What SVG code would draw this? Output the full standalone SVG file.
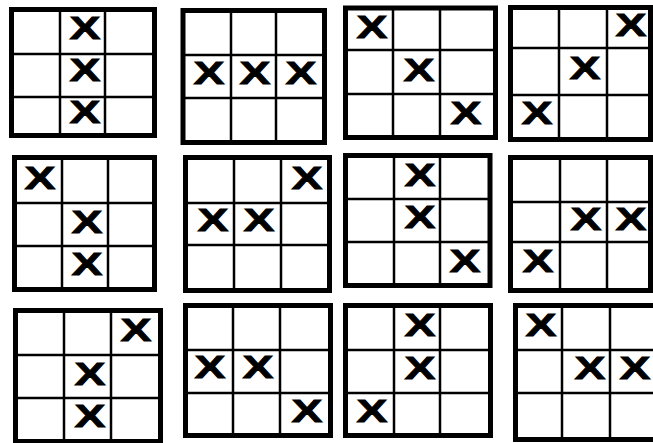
<svg xmlns="http://www.w3.org/2000/svg" width="653" height="443" viewBox="0 0 653 443">
<style>
.frame{fill:#fff;stroke:#000;stroke-width:5}
.grid{stroke:#000;stroke-width:2.5}
.x{font-family:"Liberation Sans",Arial,sans-serif;font-weight:bold;font-size:31px;text-anchor:middle;fill:#000;stroke:#000;stroke-width:0.8}
</style>
<rect width="653" height="443" fill="#fff"/>
<g id="board1">
<rect class="frame" x="11.5" y="9.5" width="143" height="126"/>
<line class="grid" x1="60" y1="9.5" x2="60" y2="135.5"/><line class="grid" x1="105" y1="9.5" x2="105" y2="135.5"/>
<line class="grid" x1="11.5" y1="54" x2="154.5" y2="54"/><line class="grid" x1="11.5" y1="97" x2="154.5" y2="97"/>
<text class="x" transform="translate(85,28) scale(1.5,1)" y="11">X</text>
<text class="x" transform="translate(85,70) scale(1.5,1)" y="11">X</text>
<text class="x" transform="translate(85,112) scale(1.5,1)" y="11">X</text>
</g>
<g id="board2">
<rect class="frame" x="183" y="10.5" width="141.5" height="132"/>
<line class="grid" x1="231" y1="10.5" x2="231" y2="142.5"/><line class="grid" x1="276" y1="10.5" x2="276" y2="142.5"/>
<line class="grid" x1="183" y1="55" x2="324.5" y2="55"/><line class="grid" x1="183" y1="98" x2="324.5" y2="98"/>
<text class="x" transform="translate(209,73) scale(1.5,1)" y="11">X</text>
<text class="x" transform="translate(255,73) scale(1.5,1)" y="11">X</text>
<text class="x" transform="translate(301,73) scale(1.5,1)" y="11">X</text>
</g>
<g id="board3">
<rect class="frame" x="345.5" y="8" width="150" height="129.5"/>
<line class="grid" x1="393" y1="8" x2="393" y2="137.5"/><line class="grid" x1="440" y1="8" x2="440" y2="137.5"/>
<line class="grid" x1="345.5" y1="50" x2="495.5" y2="50"/><line class="grid" x1="345.5" y1="94" x2="495.5" y2="94"/>
<text class="x" transform="translate(372,27) scale(1.5,1)" y="11">X</text>
<text class="x" transform="translate(419,70) scale(1.5,1)" y="11">X</text>
<text class="x" transform="translate(466,113) scale(1.5,1)" y="11">X</text>
</g>
<g id="board4">
<rect class="frame" x="510.5" y="7.5" width="140" height="132"/>
<line class="grid" x1="559" y1="7.5" x2="559" y2="139.5"/><line class="grid" x1="607" y1="7.5" x2="607" y2="139.5"/>
<line class="grid" x1="510.5" y1="48" x2="650.5" y2="48"/><line class="grid" x1="510.5" y1="95" x2="650.5" y2="95"/>
<text class="x" transform="translate(631,25) scale(1.5,1)" y="11">X</text>
<text class="x" transform="translate(585,68) scale(1.5,1)" y="11">X</text>
<text class="x" transform="translate(537,113) scale(1.5,1)" y="11">X</text>
</g>
<g id="board5">
<rect class="frame" x="14.5" y="157.5" width="140" height="132"/>
<line class="grid" x1="62" y1="157.5" x2="62" y2="289.5"/><line class="grid" x1="108" y1="157.5" x2="108" y2="289.5"/>
<line class="grid" x1="14.5" y1="203" x2="154.5" y2="203"/><line class="grid" x1="14.5" y1="246" x2="154.5" y2="246"/>
<text class="x" transform="translate(40,178) scale(1.5,1)" y="11">X</text>
<text class="x" transform="translate(87,222) scale(1.5,1)" y="11">X</text>
<text class="x" transform="translate(87,264) scale(1.5,1)" y="11">X</text>
</g>
<g id="board6">
<rect class="frame" x="185.5" y="157.5" width="144" height="133"/>
<line class="grid" x1="234" y1="157.5" x2="234" y2="290.5"/><line class="grid" x1="281" y1="157.5" x2="281" y2="290.5"/>
<line class="grid" x1="185.5" y1="203" x2="329.5" y2="203"/><line class="grid" x1="185.5" y1="245" x2="329.5" y2="245"/>
<text class="x" transform="translate(307,178) scale(1.5,1)" y="11">X</text>
<text class="x" transform="translate(213,220) scale(1.5,1)" y="11">X</text>
<text class="x" transform="translate(259,220) scale(1.5,1)" y="11">X</text>
</g>
<g id="board7">
<rect class="frame" x="345.5" y="155.5" width="144.5" height="130"/>
<line class="grid" x1="394" y1="155.5" x2="394" y2="285.5"/><line class="grid" x1="440" y1="155.5" x2="440" y2="285.5"/>
<line class="grid" x1="345.5" y1="199" x2="490" y2="199"/><line class="grid" x1="345.5" y1="242" x2="490" y2="242"/>
<text class="x" transform="translate(420,175) scale(1.5,1)" y="11">X</text>
<text class="x" transform="translate(420,217) scale(1.5,1)" y="11">X</text>
<text class="x" transform="translate(465,261) scale(1.5,1)" y="11">X</text>
</g>
<g id="board8">
<rect class="frame" x="510.5" y="157.5" width="140" height="133"/>
<line class="grid" x1="560" y1="157.5" x2="560" y2="290.5"/><line class="grid" x1="607" y1="157.5" x2="607" y2="290.5"/>
<line class="grid" x1="510.5" y1="202" x2="650.5" y2="202"/><line class="grid" x1="510.5" y1="242" x2="650.5" y2="242"/>
<text class="x" transform="translate(586,219) scale(1.5,1)" y="11">X</text>
<text class="x" transform="translate(631,219) scale(1.5,1)" y="11">X</text>
<text class="x" transform="translate(538,261) scale(1.5,1)" y="11">X</text>
</g>
<g id="board9">
<rect class="frame" x="15.5" y="310.5" width="145" height="131"/>
<line class="grid" x1="64" y1="310.5" x2="64" y2="441.5"/><line class="grid" x1="111" y1="310.5" x2="111" y2="441.5"/>
<line class="grid" x1="15.5" y1="355" x2="160.5" y2="355"/><line class="grid" x1="15.5" y1="398" x2="160.5" y2="398"/>
<text class="x" transform="translate(136,330) scale(1.5,1)" y="11">X</text>
<text class="x" transform="translate(90,374) scale(1.5,1)" y="11">X</text>
<text class="x" transform="translate(90,416) scale(1.5,1)" y="11">X</text>
</g>
<g id="board10">
<rect class="frame" x="185.5" y="305.5" width="145" height="130"/>
<line class="grid" x1="233" y1="305.5" x2="233" y2="435.5"/><line class="grid" x1="280" y1="305.5" x2="280" y2="435.5"/>
<line class="grid" x1="185.5" y1="350" x2="330.5" y2="350"/><line class="grid" x1="185.5" y1="393" x2="330.5" y2="393"/>
<text class="x" transform="translate(210,367) scale(1.5,1)" y="11">X</text>
<text class="x" transform="translate(258,367) scale(1.5,1)" y="11">X</text>
<text class="x" transform="translate(307,411) scale(1.5,1)" y="11">X</text>
</g>
<g id="board11">
<rect class="frame" x="345.5" y="305.5" width="145" height="130"/>
<line class="grid" x1="394" y1="305.5" x2="394" y2="435.5"/><line class="grid" x1="440" y1="305.5" x2="440" y2="435.5"/>
<line class="grid" x1="345.5" y1="350" x2="490.5" y2="350"/><line class="grid" x1="345.5" y1="393" x2="490.5" y2="393"/>
<text class="x" transform="translate(420,325) scale(1.5,1)" y="11">X</text>
<text class="x" transform="translate(420,368) scale(1.5,1)" y="11">X</text>
<text class="x" transform="translate(372,411) scale(1.5,1)" y="11">X</text>
</g>
<g id="board12">
<rect class="frame" x="515.5" y="305.5" width="140" height="134"/>
<line class="grid" x1="562" y1="305.5" x2="562" y2="439.5"/><line class="grid" x1="610" y1="305.5" x2="610" y2="439.5"/>
<line class="grid" x1="515.5" y1="350" x2="655.5" y2="350"/><line class="grid" x1="515.5" y1="393" x2="655.5" y2="393"/>
<text class="x" transform="translate(541,325) scale(1.5,1)" y="11">X</text>
<text class="x" transform="translate(590,368) scale(1.5,1)" y="11">X</text>
<text class="x" transform="translate(635,368) scale(1.5,1)" y="11">X</text>
</g>
<g id="connectors"/>
</svg>
